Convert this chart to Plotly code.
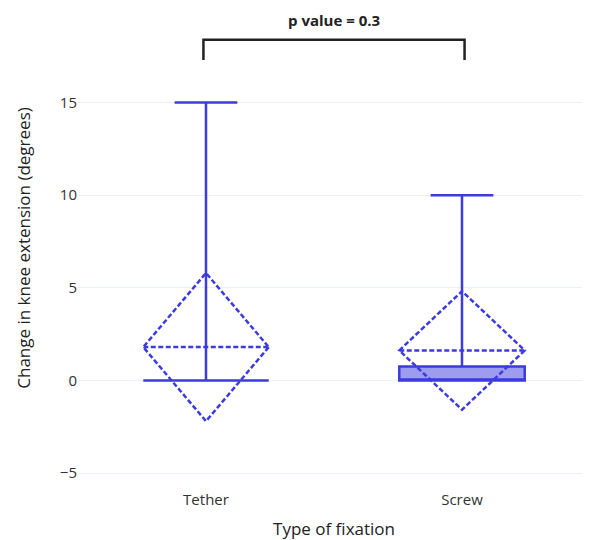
import plotly.graph_objects as go

categories = ["Tether", "Screw"]
q1 = [0, 0]
median = [0, 0]
q3 = [0, 0.75]
lowerfence = [0, 0]
upperfence = [15, 10]
mean = [1.8, 1.62]
sd = [4.0, 3.2]

p_text = "p value = 0.3"

line_color = "#3B3BE0"

fig = go.Figure()
fig.add_trace(go.Box(
    x=categories, q1=q1, median=median, q3=q3,
    lowerfence=lowerfence, upperfence=upperfence,
    mean=mean, sd=sd,
    line=dict(color=line_color, width=2.5),
    fillcolor="rgba(59,59,224,0.5)",
    whiskerwidth=0.5,
    showlegend=False,
))

fig.add_shape(type="path",
              path="M -0.01,17.3 L -0.01,18.4 L 1.01,18.4 L 1.01,17.3",
              xref="x", yref="y",
              line=dict(color="#222222", width=2.5))
fig.add_annotation(x=0.5, y=19.45, xref="x", yref="y", text="<b>" + p_text + "</b>",
                   showarrow=False, font=dict(size=15, color="#222222"))

fig.update_layout(
    template="plotly_white",
    width=582, height=532,
    margin=dict(l=70, r=0, t=2, b=54),
    font=dict(family="Open Sans, verdana, arial, sans-serif", size=14, color="#2a3f5f"),
    xaxis=dict(title=dict(text="Type of fixation", font=dict(size=17, color="#222")),
               tickfont=dict(size=15, color="#333"), range=[-0.5, 1.5], automargin=False,
               ticklabelstandoff=3),
    yaxis=dict(title=dict(text="Change in knee extension (degrees)", font=dict(size=17, color="#222"),
                          standoff=24),
               tickfont=dict(size=15, color="#333"), range=[-5.7, 20],
               tickvals=[-5, 0, 5, 10, 15], ticktext=["\u22125", "0", "5", "10", "15"],
               zeroline=False, automargin=False),
)

fig.write_html("out.html")
